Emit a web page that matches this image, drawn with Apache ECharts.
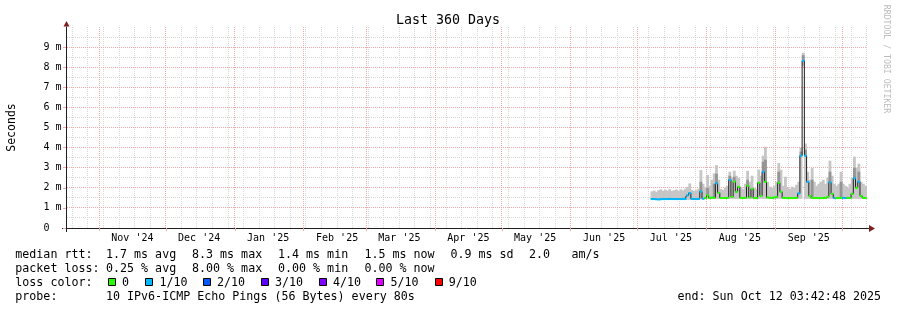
<!DOCTYPE html>
<html>
<head>
<meta charset="utf-8">
<title>Last 360 Days</title>
<script src="https://cdn.jsdelivr.net/npm/echarts@6.0.0/dist/echarts.min.js"></script>
<style>
html, body { margin: 0; padding: 0; background: #ffffff; }
#chart { width: 897px; height: 310px; }
</style>
</head>
<body>
<div id="chart"></div>
<script>
// ---------------- data ----------------
const titleText = 'Last 360 Days';
const endTime = '2025-10-12T03:42:48Z';
const spanDays = 360;
const firstSample = '2025-07-07T12:00:00Z';   // one consolidated sample per day
const firstSunday = '2024-10-20T00:00:00Z';

const monthStarts = ['2024-11-01', '2024-12-01', '2025-01-01', '2025-02-01', '2025-03-01', '2025-04-01',
  '2025-05-01', '2025-06-01', '2025-07-01', '2025-08-01', '2025-09-01', '2025-10-01'];
const monthLabels = ["Nov '24", "Dec '24", "Jan '25", "Feb '25", "Mar '25", "Apr '25",
  "May '25", "Jun '25", "Jul '25", "Aug '25", "Sep '25"];

const yTickValues = [0, 1, 2, 3, 4, 5, 6, 7, 8, 9];
const yTickLabels = ['0  ', '1 m', '2 m', '3 m', '4 m', '5 m', '6 m', '7 m', '8 m', '9 m'];
const yMinorValues = [0.5, 1.5, 2.5, 3.5, 4.5, 5.5, 6.5, 7.5, 8.5, 9.5];

// median RTT per day (ms)
const medianMs = [
  1.44, 1.44, 1.43, 1.42, 1.43, 1.44, 1.44, 1.44, 1.45, 1.44,
  1.44, 1.44, 1.44, 1.44, 1.45, 1.45, 1.62, 1.74, 1.45, 1.44,
  1.44, 1.45, 1.81, 1.46, 1.49, 1.62, 1.49, 1.52, 1.50, 2.22,
  1.75, 1.49, 1.49, 1.49, 1.50, 2.39, 1.55, 2.30, 1.80, 2.05,
  1.50, 1.49, 1.50, 2.10, 1.52, 1.95, 1.49, 1.49, 2.25, 1.60,
  2.80, 2.30, 1.52, 1.50, 1.50, 1.52, 1.55, 2.25, 1.80, 1.50,
  1.49, 1.49, 1.49, 1.49, 1.49, 1.50, 1.72, 3.60, 8.32, 3.60,
  2.30, 1.60, 1.50, 1.49, 1.49, 1.49, 1.49, 1.49, 1.50, 1.55,
  2.27, 1.70, 1.49, 1.49, 1.49, 1.50, 1.49, 1.49, 1.50, 1.49,
  1.70, 2.47, 2.00, 2.30, 1.60, 1.50, 1.49
];
// smoke: lowest ping per day (ms)
const smokeLowMs = [
  1.40, 1.40, 1.40, 1.40, 1.40, 1.40, 1.40, 1.40, 1.40, 1.40,
  1.40, 1.40, 1.40, 1.40, 1.40, 1.40, 1.40, 1.40, 1.40, 1.40,
  1.40, 1.40, 1.43, 1.43, 1.45, 1.45, 1.45, 1.45, 1.45, 1.45,
  1.45, 1.45, 1.45, 1.45, 1.45, 1.45, 1.45, 1.45, 1.45, 1.45,
  1.45, 1.45, 1.45, 1.45, 1.45, 1.45, 1.45, 1.45, 1.45, 1.45,
  1.45, 1.45, 1.45, 1.45, 1.45, 1.45, 1.45, 1.45, 1.45, 1.45,
  1.45, 1.45, 1.45, 1.45, 1.45, 1.45, 1.45, 1.45, 8.05, 1.45,
  1.45, 1.45, 1.45, 1.45, 1.45, 1.45, 1.45, 1.45, 1.45, 1.45,
  1.45, 1.45, 1.45, 1.45, 1.45, 1.45, 1.45, 1.45, 1.45, 1.45,
  1.45, 1.45, 1.45, 1.45, 1.45, 1.45, 1.45
];
// smoke: highest ping per day (ms)
const smokeHighMs = [
  1.82, 1.86, 1.80, 1.88, 1.92, 1.85, 1.90, 1.86, 1.93, 1.84,
  1.88, 1.91, 1.85, 1.92, 1.87, 1.95, 2.05, 2.22, 1.90, 1.85,
  1.88, 1.95, 2.88, 2.20, 2.00, 2.64, 2.10, 2.40, 2.72, 3.13,
  2.40, 1.95, 1.90, 2.00, 2.10, 2.80, 2.50, 2.85, 2.60, 2.50,
  2.05, 1.95, 2.20, 2.84, 2.30, 2.60, 2.00, 1.95, 2.90, 2.60,
  3.60, 4.04, 2.30, 2.05, 2.00, 2.10, 2.30, 3.23, 2.90, 2.10,
  2.55, 2.00, 1.95, 2.05, 2.00, 2.15, 2.30, 4.00, 8.72, 4.20,
  2.80, 2.40, 2.98, 2.30, 2.10, 2.20, 2.30, 2.40, 2.20, 2.50,
  3.35, 2.60, 2.20, 2.10, 2.20, 2.80, 2.20, 2.10, 2.00, 2.20,
  2.50, 3.55, 3.00, 3.20, 2.30, 2.20, 2.10
];
// denser smoke just above the median: [day index, top (ms)]
const smokeDarkTop = [
  [22, 2.30], [25, 2.00], [28, 2.20], [29, 2.70], [35, 2.60], [37, 2.55], [43, 2.40],
  [50, 3.30], [51, 3.40], [57, 2.80], [67, 3.80], [68, 8.60], [69, 3.90], [72, 2.40],
  [80, 2.80], [85, 2.30], [91, 3.00], [93, 2.80]
];
// packet loss per day, in tenths
const lossTenths = [
  1, 1, 1, 1, 1, 1, 1, 1, 1, 1,
  1, 1, 1, 1, 1, 1, 1, 1, 1, 1,
  1, 1, 1, 1, 0, 0, 0, 0, 0, 1,
  0, 0, 0, 0, 0, 1, 0, 0, 0, 0,
  0, 0, 0, 0, 0, 0, 0, 0, 0, 0,
  1, 0, 0, 0, 0, 0, 0, 0, 0, 0,
  0, 0, 0, 0, 0, 0, 1, 1, 1, 1,
  1, 0, 0, 0, 0, 0, 0, 0, 0, 0,
  1, 0, 1, 0, 0, 0, 1, 1, 0, 0,
  0, 1, 0, 1, 0, 0, 0
];
const lossColors = ['#26ff00', '#00b8ff', '#0059ff', '#5e00ff', '#7e00ff', '#dd00ff', '#ff0000'];
const lossLabels = ['0', '1/10', '2/10', '3/10', '4/10', '5/10', '9/10'];

const legendLabels = ['median rtt:', 'packet loss:', 'loss color:', 'probe:'];
const rttStats = ['1.7 ms avg', '8.3 ms max', '1.4 ms min', '1.5 ms now', '0.9 ms sd', '2.0', 'am/s'];
const lossStats = ['0.25 % avg', '8.00 % max', '0.00 % min', '0.00 % now'];
const probeText = '10 IPv6-ICMP Echo Pings (56 Bytes) every 80s';
const endText = 'end: Sun Oct 12 03:42:48 2025';
const creditText = 'RRDTOOL / TOBI OETIKER';

// ---------------- layout / style ----------------
const MONO = '"DejaVu Sans Mono", "Liberation Mono", monospace';
const legendFont = '11.66px ' + MONO;
const rowY = [255, 269, 283, 297];
const chunkX = [106, 192, 278, 364.4, 450.4, 528.9, 571.5];
const boxX = [108.5, 145.5, 203.5, 261.5, 319.5, 376.5, 435.5];
const boxLabelX = [122, 159.5, 217, 275, 333, 390.5, 448.8];
const MAJOR = '#f0a8a8';
const MINOR = '#d8d8d8';
const AXIS = '#1f1f1f';
const ARROW = '#801f1f';

// ---------------- derived ----------------
const DAY = 86400000;
const endMs = Date.parse(endTime);
const startMs = endMs - spanDays * DAY;
const firstMs = Date.parse(firstSample);
const sampleTimes = medianMs.map((_, i) => firstMs + i * DAY);
const monthStartMs = monthStarts.map(s => Date.parse(s + 'T00:00:00Z'));
const monthMidMs = monthLabels.map((_, i) => monthStartMs[i] + 15 * DAY);
const weekMs = [];
for (let t = Date.parse(firstSunday); t <= endMs; t += 7 * DAY) weekMs.push(t);

// grid lines: [orientation (0 = horizontal, 1 = vertical), value, major]
const gridData = [].concat(
  yMinorValues.map(v => [0, v, 0]),
  weekMs.map(v => [1, v, 0]),
  yTickValues.filter(v => v > 0).map(v => [0, v, 1]),
  monthStartMs.map(v => [1, v, 1])
);

const smokeData = sampleTimes.map((t, i) => [t, smokeLowMs[i], smokeHighMs[i]]);
const darkData = smokeDarkTop.map(([i, top]) => [sampleTimes[i], medianMs[i], top]);
const medianData = sampleTimes.map((t, i) => [t, medianMs[i]]);
const lossData = sampleTimes.map((t, i) => [t, medianMs[i], lossTenths[i]]);

function gridItem(params, api) {
  const sys = params.coordSys;
  const o = api.value(0), v = api.value(1), major = api.value(2);
  const style = { stroke: major ? MAJOR : MINOR, lineWidth: 1, lineDash: [1, 1] };
  if (o === 0) {
    const y = Math.floor(api.coord([startMs, v])[1]) + 0.5;
    return { type: 'line', shape: { x1: sys.x + 1, y1: y, x2: sys.x + sys.width, y2: y }, style: style };
  }
  const x = Math.floor(api.coord([v, 0])[0]) + 0.5;
  if (x < sys.x + 1 || x > sys.x + sys.width) return null;
  return { type: 'line', shape: { x1: x, y1: sys.y, x2: x, y2: sys.y + sys.height }, style: style };
}

function bandItem(color) {
  return function (params, api) {
    const t = api.value(0);
    const a = api.coord([t - DAY / 2, api.value(2)]);
    const b = api.coord([t + DAY / 2, api.value(1)]);
    return {
      type: 'rect',
      shape: { x: a[0] - 0.3, y: a[1], width: b[0] - a[0] + 0.6, height: b[1] - a[1] },
      style: { fill: color }
    };
  };
}

function lossItem(params, api) {
  const t = api.value(0);
  const m = api.value(1);
  const a = api.coord([t - DAY / 2, m]);
  const b = api.coord([t + DAY / 2, m]);
  return {
    type: 'rect',
    shape: { x: a[0] - 0.2, y: a[1] - 1, width: b[0] - a[0] + 0.4, height: 2 },
    style: { fill: lossColors[api.value(2)] }
  };
}

function txt(text, x, y, opts) {
  return {
    type: 'text', x: x, y: y, silent: true,
    rotation: (opts && opts.rotation) || 0,
    style: Object.assign({
      text: text, fill: '#000', font: legendFont, align: 'left', verticalAlign: 'middle'
    }, opts && opts.style)
  };
}

const graphics = [];
graphics.push(txt(titleText, 448, 20.5, { style: { font: '13.3px ' + MONO, align: 'center' } }));
graphics.push(txt(creditText, 886, 59, { rotation: -Math.PI / 2, style: { font: '8.2px ' + MONO, fill: '#bdbdbd', align: 'center' } }));
legendLabels.forEach((l, k) => graphics.push(txt(l, 15.3, rowY[k])));
rttStats.forEach((s, k) => graphics.push(txt(s, chunkX[k], rowY[0])));
lossStats.forEach((s, k) => graphics.push(txt(s, chunkX[k], rowY[1])));
lossLabels.forEach((l, k) => {
  graphics.push({
    type: 'rect', silent: true,
    shape: { x: boxX[k], y: rowY[2] - 4.5, width: 7, height: 7 },
    style: { fill: lossColors[k], stroke: '#000', lineWidth: 1 }
  });
  graphics.push(txt(l, boxLabelX[k], rowY[2]));
});
graphics.push(txt(probeText, chunkX[0], rowY[3]));
graphics.push(txt(endText, 881, rowY[3], { style: { align: 'right' } }));
graphics.push({ type: 'polygon', silent: true, shape: { points: [[63.5, 26.5], [69.5, 26.5], [66.5, 21]] }, style: { fill: ARROW } });
graphics.push({ type: 'polygon', silent: true, shape: { points: [[869, 225], [869, 232], [875, 228.5]] }, style: { fill: ARROW } });
graphics.push({ type: 'line', silent: true, shape: { x1: 62, y1: 228.5, x2: 66, y2: 228.5 }, style: { stroke: AXIS, lineWidth: 1 } });
graphics.push({ type: 'line', silent: true, shape: { x1: 867, y1: 228.5, x2: 869, y2: 228.5 }, style: { stroke: AXIS, lineWidth: 1 } });
graphics.push({ type: 'line', silent: true, shape: { x1: 66.5, y1: 228, x2: 66.5, y2: 232 }, style: { stroke: AXIS, lineWidth: 1 } });

function monthLabelFor(v) {
  let best = -1, bd = Infinity;
  monthMidMs.forEach((m, i) => { const d = Math.abs(m - v); if (d < bd) { bd = d; best = i; } });
  return bd < DAY ? monthLabels[best] : '';
}

const chart = echarts.init(document.getElementById('chart'), null, { renderer: 'canvas', width: 897, height: 310 });
chart.setOption({
  animation: false,
  backgroundColor: '#ffffff',
  grid: { left: 66, right: 30, top: 27, bottom: 82, containLabel: false, outerBoundsMode: 'none' },
  xAxis: {
    type: 'value', min: startMs, max: endMs, scale: true,
    axisLine: { show: true, lineStyle: { color: AXIS, width: 1 } },
    axisTick: { show: true, customValues: monthStartMs, length: 3, lineStyle: { color: MAJOR } },
    axisLabel: {
      show: true, customValues: monthMidMs, hideOverlap: false,
      formatter: monthLabelFor,
      fontFamily: MONO, fontSize: 10, color: '#000', margin: 5
    },
    splitLine: { show: false },
    minorSplitLine: { show: false }
  },
  yAxis: {
    type: 'value', min: 0, max: 10, interval: 1,
    axisLine: { show: true, lineStyle: { color: AXIS, width: 1 } },
    axisTick: { show: true, length: 3, lineStyle: { color: MAJOR } },
    axisLabel: {
      formatter: function (v) { const k = yTickValues.indexOf(v); return k >= 0 ? yTickLabels[k] : ''; },
      fontFamily: MONO, fontSize: 10, color: '#000', margin: 4.5, showMaxLabel: false
    },
    splitLine: { show: false },
    minorSplitLine: { show: false },
    name: 'Seconds', nameLocation: 'middle', nameRotate: 90, nameGap: 48,
    nameTextStyle: { fontFamily: MONO, fontSize: 11.5, color: '#000' }
  },
  series: [
    {
      type: 'custom', name: 'grid', clip: false, z: 1, silent: true,
      encode: { x: 1, y: 1 }, renderItem: gridItem, data: gridData
    },
    {
      type: 'custom', name: 'smoke', clip: true, z: 2, silent: true,
      encode: { x: 0, y: [1, 2] }, renderItem: bandItem('#c6c6c6'), data: smokeData
    },
    {
      type: 'custom', name: 'smoke dense', clip: true, z: 3, silent: true,
      encode: { x: 0, y: [1, 2] }, renderItem: bandItem('#959595'), data: darkData
    },
    {
      type: 'line', name: 'median', data: medianData, step: 'middle',
      showSymbol: false, symbol: 'none', clip: true, z: 4, silent: true,
      lineStyle: { color: '#202020', width: 1 }
    },
    {
      type: 'custom', name: 'loss', clip: true, z: 5, silent: true,
      encode: { x: 0, y: 1 }, renderItem: lossItem, data: lossData
    }
  ],
  graphic: graphics
});
</script>
</body>
</html>
